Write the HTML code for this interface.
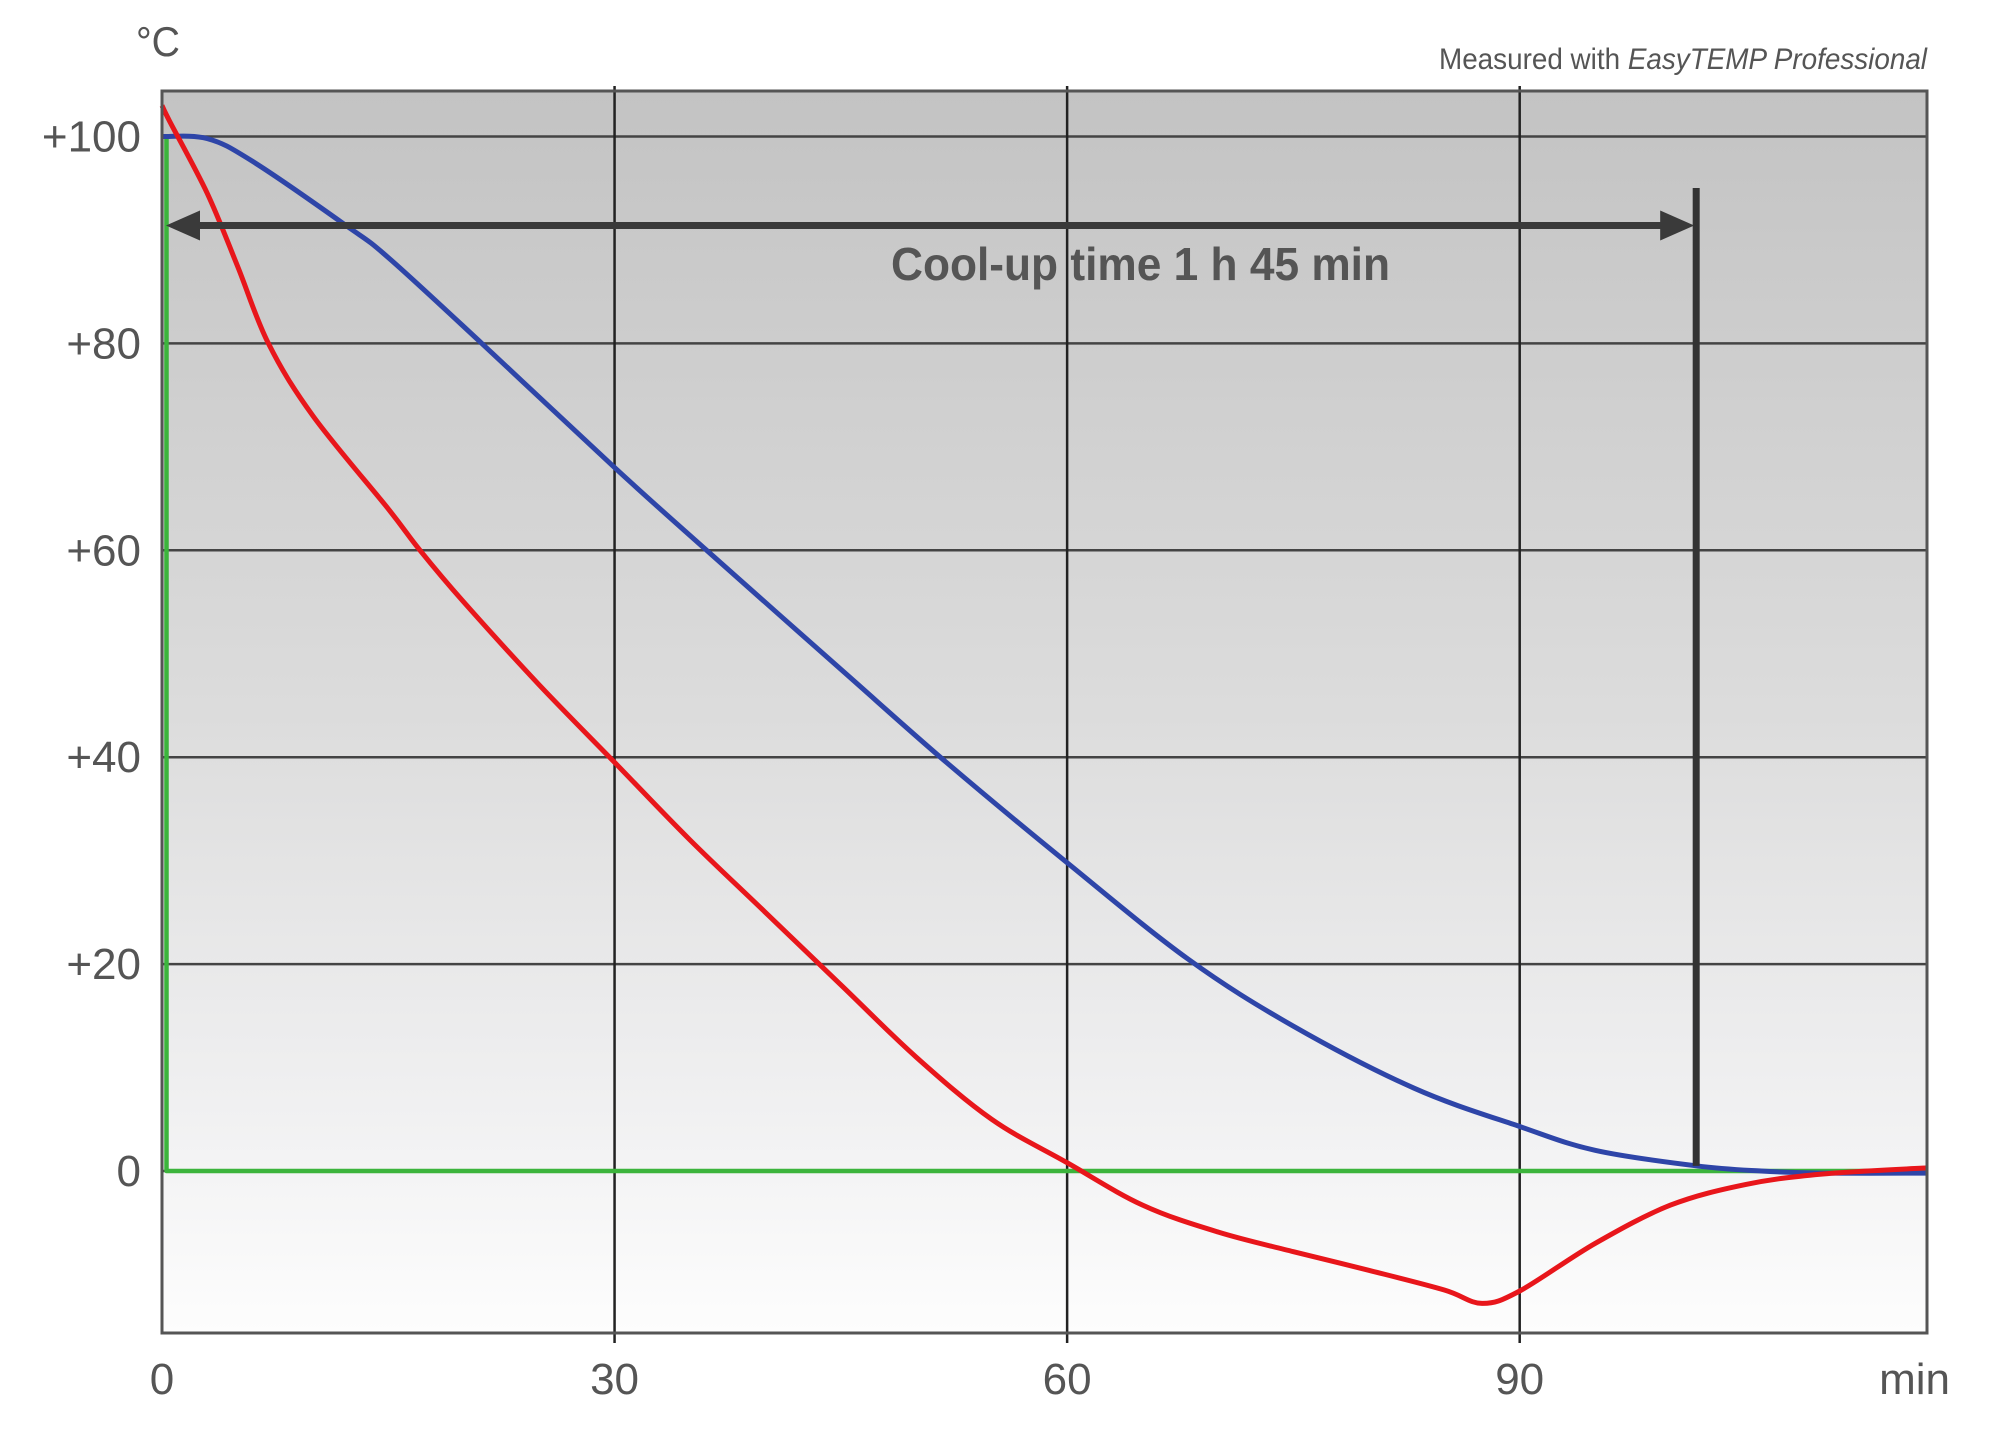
<!DOCTYPE html>
<html><head><meta charset="utf-8">
<style>
html,body{margin:0;padding:0;background:#fff;}
svg{display:block;font-family:"Liberation Sans",sans-serif;}
</style></head>
<body>
<svg id="chart" width="2000" height="1439" viewBox="0 0 2000 1439" xmlns="http://www.w3.org/2000/svg">
<defs>
<linearGradient id="bg" x1="0" y1="0" x2="0" y2="1">
<stop offset="0" stop-color="#c3c3c3"/>
<stop offset="0.5" stop-color="#dcdcdc"/>
<stop offset="0.8" stop-color="#efeff0"/>
<stop offset="1" stop-color="#fdfdfd"/>
</linearGradient>
</defs>
<rect x="162" y="91" width="1765" height="1242" fill="url(#bg)"/>
<g id="grid"></g>
<g id="series"></g>
<g id="annot"></g>
<rect x="162" y="91" width="1765" height="1242" fill="none" stroke="#555" stroke-width="3"/>
<g id="labels" fill="#555"></g>
<text x="158" y="56" font-size="42" fill="#555" text-anchor="middle" textLength="44" lengthAdjust="spacingAndGlyphs">°C</text>
<text x="1927" y="69" font-size="30" fill="#555" text-anchor="end" textLength="488" lengthAdjust="spacingAndGlyphs">Measured with <tspan font-style="italic">EasyTEMP Professional</tspan></text>
</svg>
<script>
const xTicks=[0,30,60,90];
const xTickLabels=["0","30","60","90"];
const yTicks=[0,20,40,60,80,100];
const yTickLabels=["0","+20","+40","+60","+80","+100"];
const blueX=[0,3,6,12.2,15,21.2,30,36.1,45,52,60,68,75,83,90,95,101.7,106,110,117];
const blueY=[100,99.8,97.6,91.4,88.3,80,68,60,48.5,39.5,29.8,20.5,14,8,4.3,2,0.5,0,-0.2,-0.2];
const redX=[0,0.5,3,5,7.05,10,15,17.1,20,25,30,35,40,45,50,55,60,65,70,75,80,85,87.5,90,95,100,105,110,117];
const redY=[103,101.5,94.5,87.5,80,73,64,60,55,47,39.5,32,25,18,11,5,0.8,-3.3,-5.9,-7.8,-9.6,-11.5,-12.8,-11.6,-7,-3.3,-1.3,-0.3,0.3];
const greenX=[0.3,0.3,117];
const greenY=[100,0,0];
const coolStart=0, coolEnd=101.7, arrowLevel=91.4;
const coolLabel="Cool-up time 1 h 45 min";
const xMin=0,xMax=117.0,yMin=-15.66,yMax=104.4;
const L=162,R=1927,T=91,B=1333;
function sx(v){return L+(v-xMin)/(xMax-xMin)*(R-L);}
function sy(v){return B-(v-yMin)/(yMax-yMin)*(B-T);}
const NS="http://www.w3.org/2000/svg";
function mk(tag,attrs,parent){const e=document.createElementNS(NS,tag);for(const k in attrs)e.setAttribute(k,attrs[k]);parent.appendChild(e);return e;}
const grid=document.getElementById('grid'),series=document.getElementById('series'),annot=document.getElementById('annot'),labels=document.getElementById('labels');
yTicks.forEach((v,i)=>{
 const l=mk('line',{x1:L,x2:R,y1:sy(v),y2:sy(v),stroke:'#444','stroke-width':2.5},grid);
 
 
 const t=mk('text',{x:141,y:sy(v)+15,'font-size':44,'text-anchor':'end'},labels);
 t.textContent=yTickLabels[i];
 
 
});
xTicks.forEach((v,i)=>{
 if(v>0){const l=mk('line',{x1:sx(v),x2:sx(v),y1:T-5,y2:B+10,stroke:'#222','stroke-width':2.5},grid);
 
 }
 const t=mk('text',{x:sx(v),y:1394,'font-size':44,'text-anchor':'middle'},labels);
 t.textContent=xTickLabels[i];
 
 
});
const unit=mk('text',{x:1950,y:1394,'font-size':44,'text-anchor':'end'},labels);
unit.textContent='min';


function smoothD(xs,ys){
 const p=xs.map((x,i)=>[sx(x),sy(ys[i])]);
 let d='M'+p[0][0].toFixed(1)+','+p[0][1].toFixed(1);
 for(let i=0;i<p.length-1;i++){
  const p0=p[i-1]||p[i],p1=p[i],p2=p[i+1],p3=p[i+2]||p2;
  const c1=[p1[0]+(p2[0]-p0[0])/6,p1[1]+(p2[1]-p0[1])/6];
  const c2=[p2[0]-(p3[0]-p1[0])/6,p2[1]-(p3[1]-p1[1])/6];
  d+=` C${c1[0].toFixed(1)},${c1[1].toFixed(1)} ${c2[0].toFixed(1)},${c2[1].toFixed(1)} ${p2[0].toFixed(1)},${p2[1].toFixed(1)}`;
 }
 return d;
}
function path(xs,ys,color,w,name,smooth){
 const d=smooth?smoothD(xs,ys):xs.map((x,i)=>(i?'L':'M')+sx(x).toFixed(1)+','+sy(ys[i]).toFixed(1)).join(' ');
 const p=mk('path',{d:d,fill:'none',stroke:color,'stroke-width':w,'stroke-linejoin':'round'},series);
 
 
}
path(greenX,greenY,'#3cb43c',4.5,'setpoint-line',false);
path(blueX,blueY,'#2e45a8',5,'sample-temperature-line',true);
path(redX,redY,'#e8161b',5,'bath-temperature-line',true);
const ay=sy(arrowLevel),ax1=sx(coolStart)+4,ax2=sx(coolEnd);
const al=mk('line',{x1:ax1+30,x2:ax2-30,y1:ay,y2:ay,stroke:'#3a3a3a','stroke-width':7},annot);


const h1=mk('polygon',{points:`${ax1},${ay} ${ax1+34},${ay-15} ${ax1+34},${ay+15}`,fill:'#3a3a3a'},annot);


const h2=mk('polygon',{points:`${ax2-2},${ay} ${ax2-36},${ay-15} ${ax2-36},${ay+15}`,fill:'#3a3a3a'},annot);


const vm=mk('line',{x1:ax2,x2:ax2,y1:188,y2:sy(0.5),stroke:'#333','stroke-width':7},annot);


const ct=mk('text',{x:891,y:280,'font-size':46,'font-weight':'bold',fill:'#555',textLength:499,lengthAdjust:'spacingAndGlyphs'},annot);
ct.textContent=coolLabel;


</script>
</body></html>
